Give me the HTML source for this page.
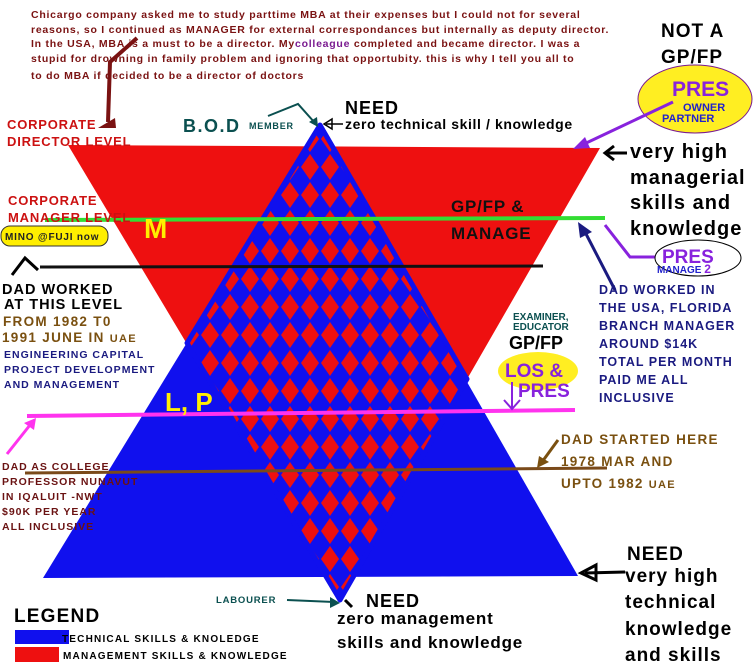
<!DOCTYPE html>
<html><head><meta charset="utf-8"><style>
html,body{margin:0;padding:0;background:#fff;}
svg{display:block;}
text{font-family:"Liberation Sans",Arial,sans-serif;font-weight:bold;}
</style></head><body>
<svg width="754" height="670" viewBox="0 0 754 670" xmlns="http://www.w3.org/2000/svg">
<defs>
<pattern id="chk" width="20" height="28" patternUnits="userSpaceOnUse" patternTransform="translate(320,125)">
<rect width="20" height="28" fill="#1010ee"/>
<polygon points="10,1 19,14 10,27 1,14" fill="#ee1010"/>
</pattern>
</defs>
<rect width="754" height="670" fill="#fff"/>
<!-- top paragraph -->
<g fill="#7a1212" font-size="10.5" letter-spacing="0.75">
<text x="31" y="18">Chicargo company asked me to study parttime MBA at their expenses but I could not for several</text>
<text x="31" y="33">reasons, so I continued as MANAGER for external correspondances but internally as deputy director.</text>
<text x="31" y="47">In the USA, MBA  is a must to be a director. My<tspan fill="#7a1a90">colleague</tspan> completed and became director. I was a</text>
<text x="31" y="62">stupid for      drowning in family problem and ignoring that opportubity.  this is why I tell you all to</text>
<text x="31" y="79">to do MBA if decided to be a director of doctors</text>
</g>
<polyline points="137,38 110,62 108,122" fill="none" stroke="#7a1212" stroke-width="4"/>
<polygon points="98,128 115,118 116,128" fill="#7a1212"/>
<!-- triangles -->
<polygon points="43,578 320,125 578,576" fill="#1010ee"/>
<polygon points="68,145 600,148 340,600" fill="#ee1010"/>
<polygon points="320,125 187,343 340,600 467,379" fill="url(#chk)" stroke="#1010ee" stroke-width="5" stroke-linejoin="round"/>
<!-- horizontal lines -->
<line x1="45" y1="220" x2="605" y2="218" stroke="#33dd33" stroke-width="4"/>
<line x1="40" y1="267" x2="543" y2="266" stroke="#111" stroke-width="3"/>
<line x1="27" y1="416" x2="575" y2="410" stroke="#ff33ee" stroke-width="4"/>
<line x1="25" y1="473" x2="607" y2="468" stroke="#7a4a1a" stroke-width="3"/>
<!-- left labels -->
<g fill="#cc1111" font-size="13" letter-spacing="0.8">
<text x="7" y="129">CORPORATE</text>
<text x="7" y="146">DIRECTOR LEVEL</text>
<text x="8" y="205">CORPORATE</text>
<text x="8" y="222">MANAGER LEVEL</text>
</g>
<text x="144" y="238" fill="#ffee00" font-size="28">M</text>
<rect x="1" y="226" width="107" height="20" rx="9" fill="#ffee00" stroke="#333" stroke-width="1"/>
<text x="5" y="240" fill="#222" font-size="10" letter-spacing="0.8">MINO @FUJI now</text>
<text x="183" y="132" fill="#0b5050" font-size="18" letter-spacing="1.5">B.O.D</text>
<text x="249" y="129" fill="#0b5050" font-size="9" letter-spacing="0.8">MEMBER</text>
<polyline points="268,116 298,104 315,123" fill="none" stroke="#0b5050" stroke-width="2"/>
<polygon points="309,122 318,127 317,117" fill="#0b5050"/>
<line x1="326" y1="124" x2="343" y2="124" stroke="#000" stroke-width="1.5"/>
<polygon points="324,124 332,119 332,129" fill="none" stroke="#000" stroke-width="1.5"/>
<text x="345" y="114" fill="#000" font-size="18" letter-spacing="1">NEED</text>
<text x="345" y="129" fill="#000" font-size="14" letter-spacing="0.6">zero technical skill / knowledge</text>
<!-- top right -->
<text x="661" y="37" fill="#000" font-size="19" letter-spacing="1">NOT A</text>
<text x="661" y="63" fill="#000" font-size="19" letter-spacing="1">GP/FP</text>
<ellipse cx="695" cy="99" rx="57" ry="34" fill="#ffee22" stroke="#7a1a90" stroke-width="1"/>
<text x="672" y="96" fill="#8822dd" font-size="21">PRES</text>
<text x="683" y="111" fill="#2222cc" font-size="11">OWNER</text>
<text x="662" y="122" fill="#2222cc" font-size="11">PARTNER</text>
<line x1="673" y1="102" x2="582" y2="145" stroke="#8822dd" stroke-width="3"/>
<polygon points="573,149 585,137 590,148" fill="#8822dd"/>
<g fill="#000" font-size="20" letter-spacing="1">
<text x="630" y="158">very high</text>
<text x="630" y="184">managerial</text>
<text x="630" y="209">skills and</text>
<text x="630" y="235">knowledge</text>
</g>
<line x1="606" y1="153" x2="627" y2="153" stroke="#000" stroke-width="3"/>
<polyline points="614,146 605,153 614,160" fill="none" stroke="#000" stroke-width="3"/>
<text x="451" y="212" fill="#111" font-size="17" letter-spacing="0.8">GP/FP &amp;</text>
<text x="451" y="239" fill="#111" font-size="17" letter-spacing="0.8">MANAGE</text>
<polyline points="605,225 630,257 655,257" fill="none" stroke="#8822dd" stroke-width="3"/>
<ellipse cx="698" cy="258" rx="43" ry="18" fill="#fff" stroke="#000" stroke-width="1"/>
<text x="662" y="263" fill="#8822dd" font-size="19">PRES</text>
<text x="657" y="273" fill="#2222cc" font-size="10">MANAGE <tspan fill="#8822dd" font-size="12">2</tspan></text>
<line x1="615" y1="290" x2="584" y2="230" stroke="#1a1a80" stroke-width="3"/>
<polygon points="578,222 592,232 580,238" fill="#1a1a80"/>
<g fill="#1a1a80" font-size="12.5" letter-spacing="1">
<text x="599" y="294">DAD WORKED IN</text>
<text x="599" y="312">THE USA, FLORIDA</text>
<text x="599" y="330">BRANCH MANAGER</text>
<text x="599" y="348">AROUND $14K</text>
<text x="599" y="366">TOTAL PER MONTH</text>
<text x="599" y="384">PAID ME ALL</text>
<text x="599" y="402">INCLUSIVE</text>
</g>
<!-- left mid -->
<polyline points="12,275 25,258 38,270" fill="none" stroke="#000" stroke-width="3"/>
<g fill="#000" font-size="14.5" letter-spacing="1">
<text x="2" y="294">DAD WORKED</text>
<text x="4" y="309">AT THIS LEVEL</text>
</g>
<g fill="#7a5010" font-size="13.5" letter-spacing="1.3">
<text x="3" y="326">FROM 1982 T0</text>
<text x="2" y="342">1991 JUNE IN <tspan font-size="11">UAE</tspan></text>
</g>
<g fill="#1a1a80" font-size="10.5" letter-spacing="1">
<text x="4" y="358">ENGINEERING CAPITAL</text>
<text x="4" y="373">PROJECT DEVELOPMENT</text>
<text x="4" y="388">AND MANAGEMENT</text>
</g>
<text x="165" y="411" fill="#ffee00" font-size="26">L, P</text>
<line x1="7" y1="454" x2="30" y2="425" stroke="#ff33ee" stroke-width="3"/>
<polygon points="36,418 24,423 34,430" fill="#ff33ee"/>
<g fill="#6a1212" font-size="10.5" letter-spacing="1">
<text x="2" y="470">DAD AS COLLEGE</text>
<text x="2" y="485">PROFESSOR NUNAVUT</text>
<text x="2" y="500">IN IQALUIT -NWT</text>
<text x="2" y="515">$90K PER YEAR</text>
<text x="2" y="530">ALL INCLUSIVE</text>
</g>
<!-- right mid -->
<text x="513" y="320" fill="#0b5050" font-size="10">EXAMINER,</text>
<text x="513" y="330" fill="#0b5050" font-size="10">EDUCATOR</text>
<text x="509" y="349" fill="#000" font-size="18">GP/FP</text>
<ellipse cx="538" cy="371" rx="40" ry="19" fill="#ffee22"/>
<text x="505" y="377" fill="#8822dd" font-size="19">LOS &amp;</text>
<text x="518" y="397" fill="#8822dd" font-size="19">PRES</text>
<line x1="512" y1="382" x2="512" y2="408" stroke="#8822dd" stroke-width="2"/>
<polyline points="504,400 512,409 520,400" fill="none" stroke="#8822dd" stroke-width="2"/>
<g fill="#7a5010" font-size="13.5" letter-spacing="1.3">
<text x="561" y="444">DAD STARTED HERE</text>
<text x="561" y="466">1978 MAR AND</text>
<text x="561" y="488">UPTO 1982 <tspan font-size="11">UAE</tspan></text>
</g>
<line x1="558" y1="440" x2="542" y2="462" stroke="#7a5010" stroke-width="3"/>
<polygon points="537,468 539,456 549,462" fill="#7a5010"/>
<!-- bottom -->
<g fill="#000" font-size="19" letter-spacing="1">
<text x="627" y="560">NEED</text>
<text x="625" y="582">very high</text>
<text x="625" y="608">technical</text>
<text x="625" y="635">knowledge</text>
<text x="625" y="661">and  skills</text>
</g>
<line x1="585" y1="573" x2="625" y2="572" stroke="#000" stroke-width="3"/>
<polygon points="581,573 596,565 596,580" fill="none" stroke="#000" stroke-width="3"/>
<text x="216" y="603" fill="#0b5050" font-size="9.5" letter-spacing="0.8">LABOURER</text>
<line x1="287" y1="600" x2="334" y2="602" stroke="#0b5050" stroke-width="2"/>
<polygon points="340,603 330,597 330,608" fill="#0b5050"/>
<line x1="352" y1="607" x2="345" y2="600" stroke="#000" stroke-width="3"/>
<text x="366" y="607" fill="#000" font-size="18" letter-spacing="1">NEED</text>
<text x="337" y="624" fill="#000" font-size="17" letter-spacing="0.8">zero management</text>
<text x="337" y="648" fill="#000" font-size="17" letter-spacing="0.8">skills and knowledge</text>
<text x="14" y="622" fill="#000" font-size="19" letter-spacing="1.2">LEGEND</text>
<rect x="15" y="630" width="54" height="14" fill="#1010ee"/>
<rect x="15" y="647" width="44" height="15" fill="#ee1010"/>
<text x="62" y="642" fill="#000" font-size="10" letter-spacing="1.2">TECHNICAL SKILLS &amp; KNOLEDGE</text>
<text x="63" y="659" fill="#000" font-size="10" letter-spacing="1.2">MANAGEMENT SKILLS &amp; KNOWLEDGE</text>
</svg>
</body></html>
